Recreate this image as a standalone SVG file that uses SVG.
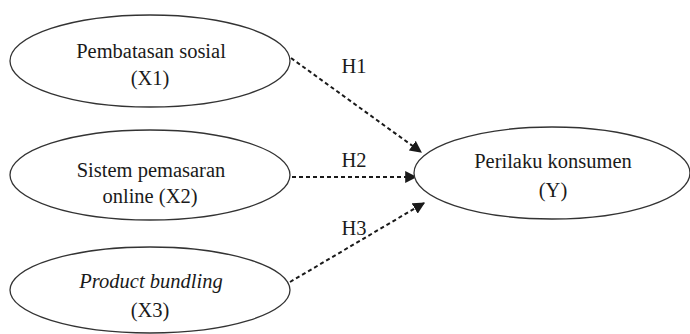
<svg xmlns="http://www.w3.org/2000/svg" width="690" height="334" viewBox="0 0 690 334">
<defs>
<style>
.node ellipse{fill:#fff;stroke:#333;stroke-width:1.3}
text{font-family:"Liberation Serif","Times New Roman",serif;font-size:20.5px;fill:#1a1a1a;text-anchor:middle}
.edge{stroke:#1a1a1a;stroke-width:2;stroke-dasharray:4 3;fill:none}
</style>
<marker id="ah" viewBox="0 0 10 10" refX="9" refY="5" markerWidth="6" markerHeight="6" orient="auto" markerUnits="strokeWidth">
<path d="M0,0L10,5L0,10z" fill="#1a1a1a"/>
</marker>
</defs>
<rect width="690" height="334" fill="#fff"/>
<g id="connectors">
<line class="edge" x1="291" y1="58" x2="421" y2="152" marker-end="url(#ah)"/>
<line class="edge" x1="292" y1="177" x2="416" y2="177" marker-end="url(#ah)"/>
<line class="edge" x1="290" y1="282" x2="424" y2="203" marker-end="url(#ah)"/>
<text x="354" y="73">H1</text>
<text x="354" y="167">H2</text>
<text x="354" y="235">H3</text>
</g>
<g id="x1" class="node">
<ellipse cx="150" cy="61" rx="140" ry="46"/>
<text x="151" y="58">Pembatasan sosial</text>
<text x="150" y="85">(X1)</text>
</g>
<g id="x2" class="node">
<ellipse cx="150" cy="175" rx="140" ry="45"/>
<text x="151" y="177">Sistem pemasaran</text>
<text x="150" y="203">online (X2)</text>
</g>
<g id="x3" class="node">
<ellipse cx="150" cy="290" rx="140" ry="43"/>
<text x="151" y="288" font-style="italic">Product bundling</text>
<text x="150" y="317">(X3)</text>
</g>
<g id="y" class="node">
<ellipse cx="552" cy="173" rx="138" ry="46"/>
<text x="553" y="168">Perilaku konsumen</text>
<text x="553" y="197">(Y)</text>
</g>
</svg>
